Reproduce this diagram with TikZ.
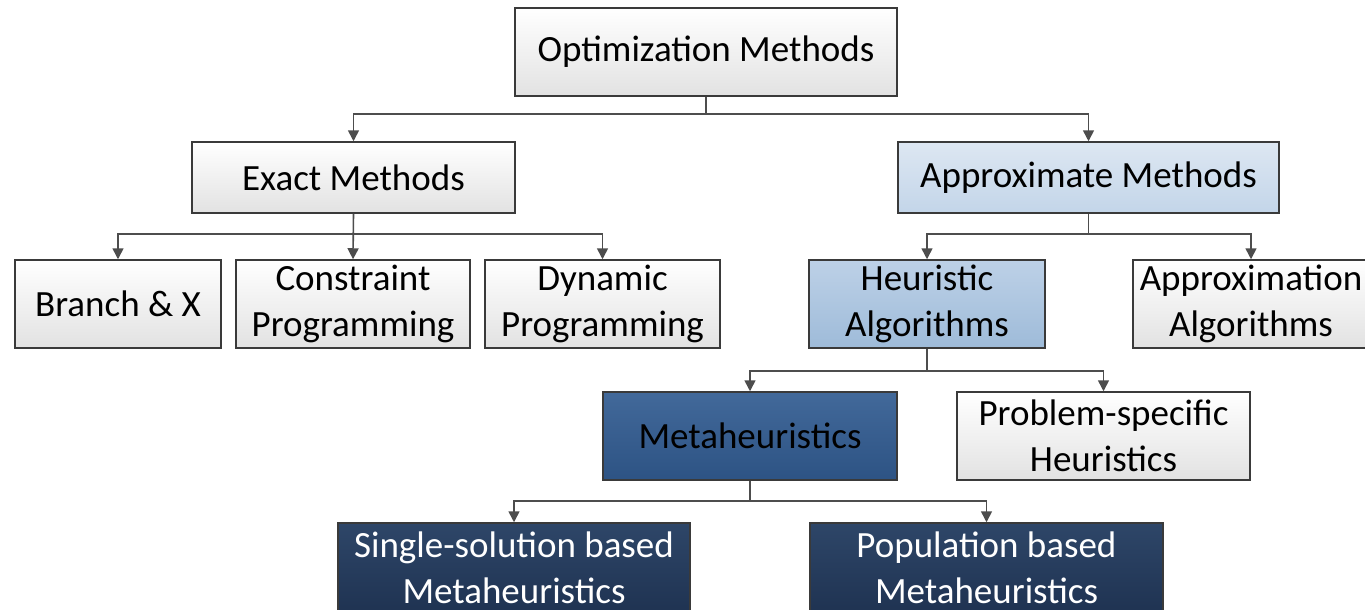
\documentclass[tikz,border=0pt]{standalone}
\usepackage{fontspec}
\setmainfont{Carlito}
\usetikzlibrary{arrows.meta}
\definecolor{edge}{HTML}{3A3A3A}
\definecolor{conncol}{HTML}{4D4D4D}
\definecolor{gtop}{HTML}{FFFFFF}
\definecolor{gbot}{HTML}{E2E2E2}
\definecolor{atop}{HTML}{DDE7F2}
\definecolor{abot}{HTML}{C3D5E9}
\definecolor{htop}{HTML}{BDD1E7}
\definecolor{hbot}{HTML}{9EBBD9}
\definecolor{mtop}{HTML}{42699A}
\definecolor{mbot}{HTML}{2D5384}
\definecolor{dtop}{HTML}{2E4668}
\definecolor{dbot}{HTML}{1F3352}
\tikzset{
  box/.style={draw=edge, line width=1.5pt, inner sep=0pt, align=center,
    font=\fontsize{37}{46}\selectfont},
  graybox/.style={box, top color=gtop, bottom color=gbot},
  lightblue/.style={box, top color=atop, bottom color=abot},
  midblue/.style={box, top color=htop, bottom color=hbot},
  metabox/.style={box, top color=mtop, bottom color=mbot, text=black},
  darkbox/.style={box, top color=dtop, bottom color=dbot, text=white},
  conn/.style={draw=conncol, line width=1.6pt, -{Triangle[width=11pt,length=11pt]}, color=conncol}
}
\begin{document}
\begin{tikzpicture}[x=1pt,y=-1pt]
\clip (0,0) rectangle (1365,610);
\fill[white] (0,0) rectangle (1365,610);
\node[graybox, minimum width=382pt, minimum height=88pt] (opt) at (706,52) {Optimization Methods};
\node[graybox, minimum width=323pt, minimum height=71pt] (exact) at (353.5,177.5) {Exact Methods};
\node[lightblue, minimum width=381pt, minimum height=71pt] (approx) at (1088.5,177.5) {Approximate Methods};
\node[graybox, minimum width=206pt, minimum height=88pt] (branch) at (118,304) {Branch \& X};
\node[graybox, minimum width=234pt, minimum height=88pt] (cp) at (353,304) {Constraint\\Programming};
\node[graybox, minimum width=235pt, minimum height=88pt] (dp) at (602.5,304) {Dynamic\\Programming};
\node[midblue, minimum width=236pt, minimum height=88pt] (heur) at (927,304) {Heuristic\\Algorithms};
\node[graybox, minimum width=236pt, minimum height=88pt] (appalg) at (1251,304) {Approximation\\Algorithms};
\node[metabox, minimum width=294pt, minimum height=88pt] (meta) at (750,436) {Metaheuristics};
\node[graybox, minimum width=293pt, minimum height=88pt] (prob) at (1103.5,436) {Problem-specific\\Heuristics};
\node[darkbox, minimum width=352pt, minimum height=89pt] (single) at (514,567.5) {Single-solution based\\Metaheuristics};
\node[darkbox, minimum width=353pt, minimum height=89pt] (pop) at (986.5,567.5) {Population based\\Metaheuristics};
\draw[conn] (opt.south) -- ++(0,17) -| (exact.north);
\draw[conn] (opt.south) -- ++(0,17) -| (approx.north);
\draw[conn] (exact.south) -- ++(0,20) -| (branch.north);
\draw[conn] (exact.south) -- (cp.north);
\draw[conn] (exact.south) -- ++(0,20) -| (dp.north);
\draw[conn] (approx.south) -- ++(0,20) -| (heur.north);
\draw[conn] (approx.south) -- ++(0,20) -| (appalg.north);
\draw[conn] (heur.south) -- ++(0,22) -| (meta.north);
\draw[conn] (heur.south) -- ++(0,22) -| (prob.north);
\draw[conn] (meta.south) -- ++(0,20) -| (single.north);
\draw[conn] (meta.south) -- ++(0,20) -| (pop.north);
\end{tikzpicture}
\end{document}
